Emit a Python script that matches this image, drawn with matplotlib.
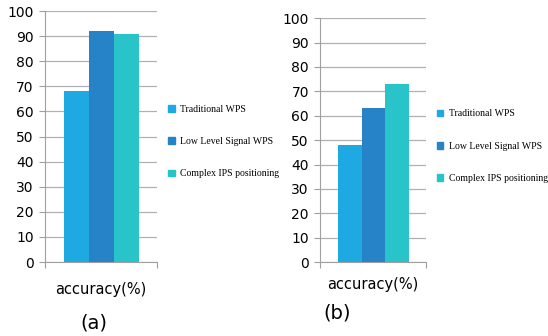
import matplotlib.pyplot as plt
from matplotlib.patches import Patch

series = ['Traditional WPS', 'Low Level Signal WPS', 'Complex IPS positioning']
colors = ['#1fa9e2', '#2783c8', '#29c4ca']
acc_a = [68, 92, 91]
acc_b = [48, 63, 73]
yticks = list(range(0, 101, 10))

fig = plt.figure(figsize=(5.48, 3.36), dpi=100)
ax_a = fig.add_axes([0.082, 0.220, 0.204, 0.747])
ax_b = fig.add_axes([0.584, 0.220, 0.193, 0.726])

for ax, vals, leg_y, lpad in [(ax_a, acc_a, 0.48, 6), (ax_b, acc_b, 0.475, 3)]:
    ax.bar(range(len(vals)), vals, width=1.0, color=colors, zorder=3)
    ax.set_xlim(-1.27, 3.23)
    ax.set_ylim(0, 100)
    ax.set_yticks(yticks)
    # little ticks at both ends of the category axis
    ax.set_xticks([-1.27, 3.23])
    ax.set_xticklabels([])
    ax.grid(axis='y', color='#b0b0b0', linewidth=0.9, zorder=0)
    for s in ['top', 'right']:
        ax.spines[s].set_visible(False)
    ax.spines['left'].set_color('#a0a0a0')
    ax.spines['bottom'].set_color('#a0a0a0')
    ax.tick_params(axis='both', length=4, color='#a0a0a0', labelsize=10, pad=4)
    ax.set_xlabel('accuracy(%)', fontsize=10.5, labelpad=lpad)
    handles = [Patch(color=c) for c in colors]
    ax.legend(handles, series, loc='center left', bbox_to_anchor=(1.02, leg_y),
              frameon=False, prop={'family': 'Liberation Serif', 'size': 7},
              handlelength=0.7, handleheight=0.7, labelspacing=2.4, handletextpad=0.6)

fig.text(0.172, 0.022, '(a)', fontsize=14, ha='center')
fig.text(0.615, 0.052, '(b)', fontsize=14, ha='center')

fig.savefig('out.png', dpi=100)
